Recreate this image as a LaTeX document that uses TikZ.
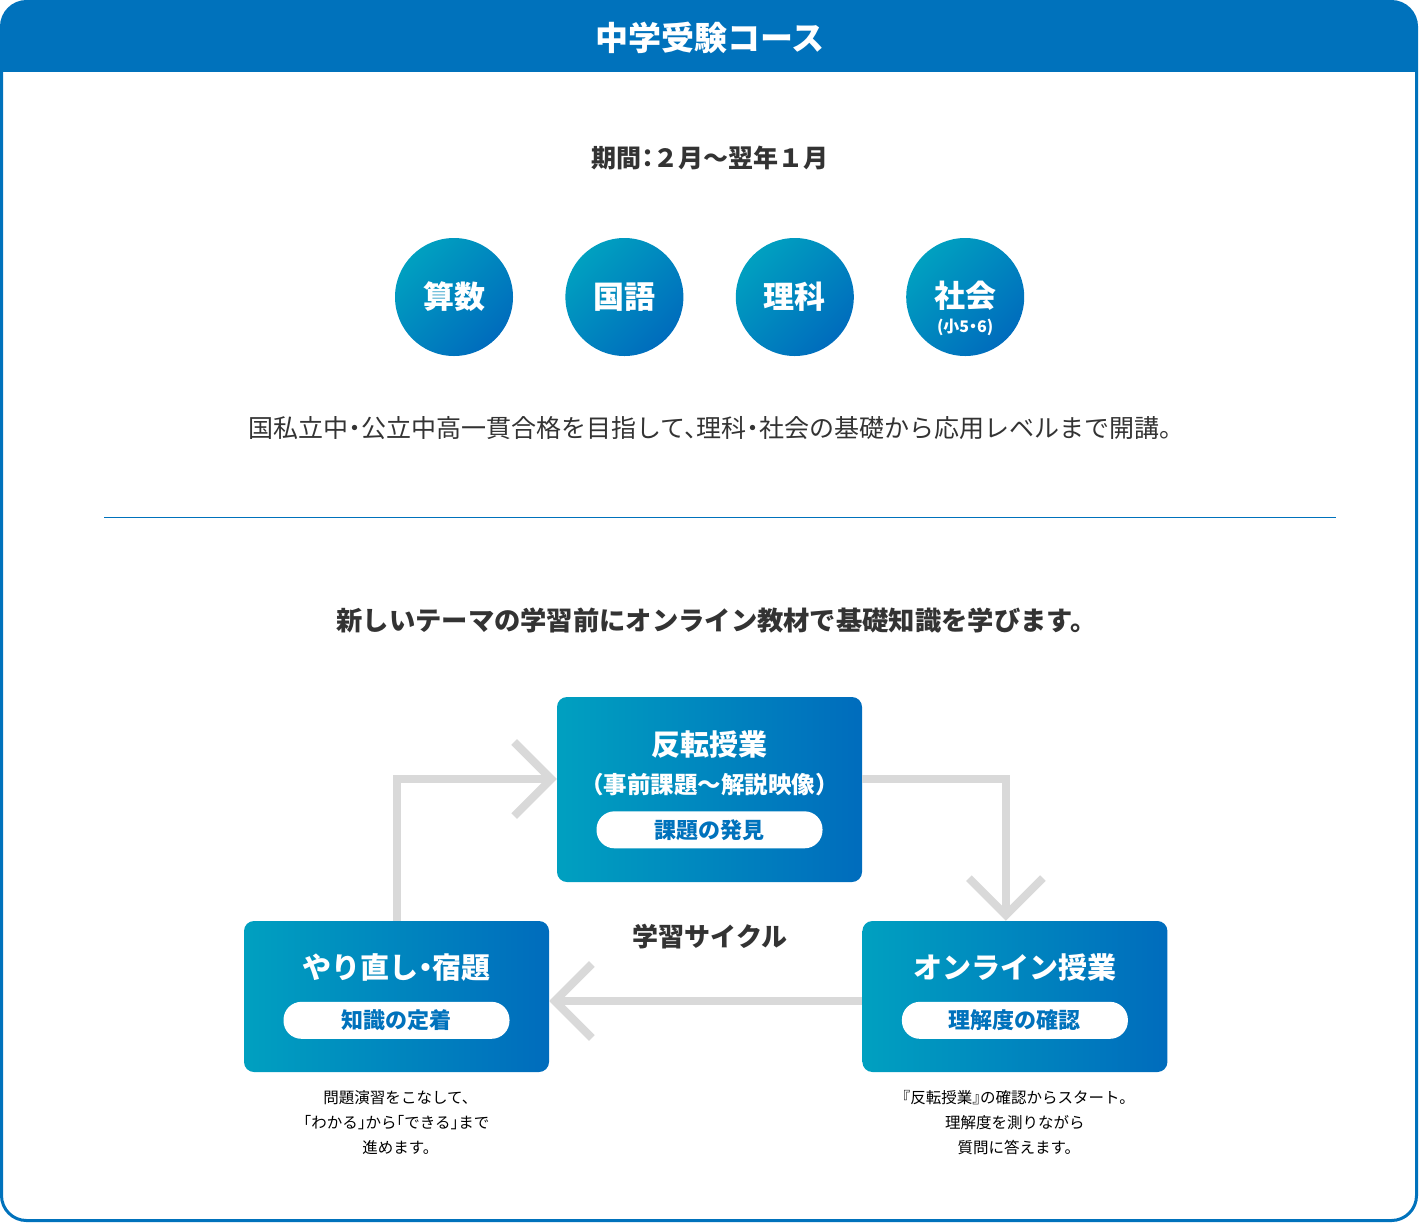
\documentclass[tikz,border=0pt]{standalone}
\usepackage{fontspec}
\setmainfont{Noto Sans CJK JP}[RawFeature=+halt]
\usepackage{xcolor}
\usepackage{tikz}
\usetikzlibrary{arrows.meta}
\usetikzlibrary{positioning}
\definecolor{courseblue}{RGB}{0,114,188}
\definecolor{coursecyan}{RGB}{0,160,192}
\definecolor{deepblue}{RGB}{0,108,189}
\definecolor{arrowgray}{RGB}{217,217,217}
\definecolor{textdark}{RGB}{51,51,51}
\tikzset{
    tnode/.style = {align=center, inner sep=0pt, text centered},
    head_text/.style = {tnode, text=white, font=\fontsize{33}{33}\selectfont\bfseries},
    lead_text/.style = {tnode, text=textdark, font=\fontsize{25}{25}\selectfont\bfseries},
    body_text/.style = {tnode, text=textdark, font=\fontsize{25}{25}\selectfont},
    subject/.style = {tnode, circle, minimum size=118pt, left color=coursecyan, right color=deepblue, shading angle=45},
    subject_text/.style = {tnode, text=white, font=\fontsize{31}{31}\selectfont\bfseries},
    subject_note/.style = {tnode, text=white, font=\fontsize{16}{16}\selectfont\bfseries}
}
\tikzset{
    cycle_box/.style = {tnode, rectangle, rounded corners=10pt, minimum width=305pt, left color=coursecyan, right color=deepblue},
    box_title/.style = {tnode, text=white, font=\fontsize{29}{29}\selectfont\bfseries},
    box_sub/.style = {tnode, text=white, font=\fontsize{23.5}{23.5}\selectfont\bfseries},
    pill/.style = {tnode, rectangle, rounded corners=18pt, fill=white, minimum width=226pt, minimum height=37pt, text=courseblue, font=\fontsize{22}{22}\selectfont\bfseries},
    note/.style = {tnode, text=black, font=\fontsize{15.5}{25}\selectfont},
    cycle_arrow/.style = {draw=arrowgray, line width=8pt, -{Straight Barb[length=37pt,width=74pt]}}
}

\begin{document}
\begin{tikzpicture}[x=1pt, y=-1pt]
    \useasboundingbox (0,0) rectangle (1420,1224);

    % frame and header
    \begin{scope}
        \clip[rounded corners=25pt] (1.5,1.5) rectangle (1416.5,1220.5);
        \fill[courseblue] (0,0) rectangle (1420,72);
    \end{scope}
    \draw[courseblue, line width=3pt, rounded corners=25pt] (1.5,1.5) rectangle (1416.5,1220.5);
    \node [head_text] (title) at (710,38) {中学受験コース};

    \node [lead_text] (period) at (710,158) {期間：２月～翌年１月};

    % subjects
    \node [subject] (sansu) at (454,297) {};
    \node [subject, right=52pt of sansu] (kokugo) {};
    \node [subject, right=52pt of kokugo] (rika) {};
    \node [subject, right=52pt of rika] (shakai) {};
    \node [subject_text] at (sansu) {算数};
    \node [subject_text] at (kokugo) {国語};
    \node [subject_text] at (rika) {理科};
    \node [subject_text] at ([yshift=1pt]shakai.center) {社会};
    \node [subject_note] at ([yshift=-30pt]shakai.center) {(小5・6)};

    \node [body_text] (aim) at (710,428) {国私立中・公立中高一貫合格を目指して、理科・社会の基礎から応用レベルまで開講。};

    \draw[courseblue, line width=1pt] (104,517) -- (1336,517);

    \node [lead_text, font=\fontsize{26.3}{26.3}\selectfont\bfseries] (intro) at (710,620) {新しいテーマの学習前にオンライン教材で基礎知識を学びます。};

    % learning cycle
    \node [cycle_box, minimum height=185pt] (flip) at (709.5,789.5) {};
    \node [box_title] (flip_title) at ([yshift=-48pt]flip.north) {反転授業};
    \node [box_sub] (flip_sub) at ([yshift=-88pt]flip.north) {（事前課題～解説映像）};
    \node [pill] (flip_pill) at ([yshift=-133pt]flip.north) {課題の発見};

    \node [cycle_box, minimum height=151pt] (review) at (396.5,996.5) {};
    \node [box_title] (review_title) at ([yshift=-47pt]review.north) {やり直し・宿題};
    \node [pill] (review_pill) at ([yshift=-99.5pt]review.north) {知識の定着};

    \node [cycle_box, minimum height=151pt, right=313pt of review] (online) {};
    \node [box_title] (online_title) at ([yshift=-47pt]online.north) {オンライン授業};
    \node [pill] (online_pill) at ([yshift=-99.5pt]online.north) {理解度の確認};

    \node [lead_text, font=\fontsize{26}{26}\selectfont\bfseries] (cycle) at (710,937) {学習サイクル};

    \draw [cycle_arrow] (review.north) |- ([yshift=10.5pt]flip.west);
    \draw [cycle_arrow] ([yshift=10.5pt]flip.east) -| ([xshift=-9pt]online.north);
    \draw [cycle_arrow] ([yshift=-4.5pt]online.west) -- ([yshift=-4.5pt]review.east);

    \node [note] (review_note) at ([yshift=-50pt]review.south) {問題演習をこなして、\\「わかる」から「できる」まで\\進めます。};
    \node [note] (online_note) at ([yshift=-50pt]online.south) {『反転授業』の確認からスタート。\\理解度を測りながら\\質問に答えます。};
\end{tikzpicture}
\end{document}
